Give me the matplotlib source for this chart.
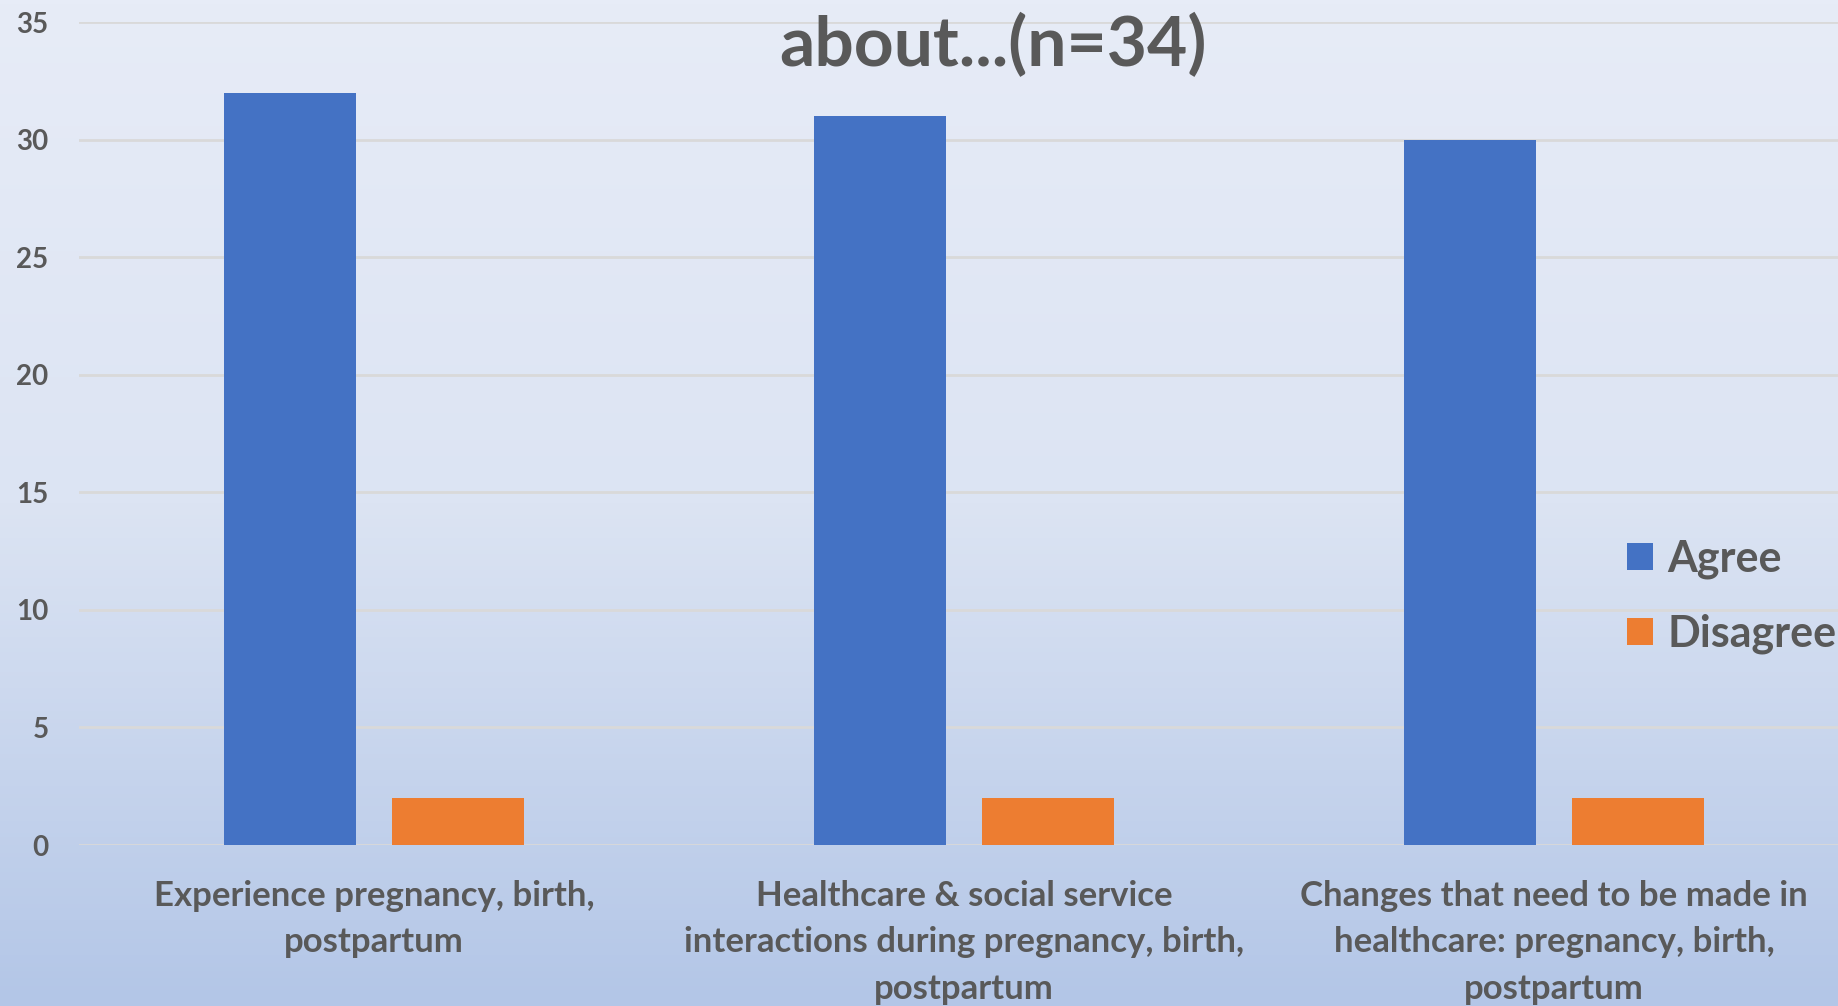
import numpy as np
import matplotlib.pyplot as plt
from matplotlib.colors import LinearSegmentedColormap

categories = ['Experience pregnancy, birth,\npostpartum',
              'Healthcare & social service\ninteractions during pregnancy, birth,\npostpartum',
              'Changes that need to be made in\nhealthcare: pregnancy, birth,\npostpartum']
agree = [32, 31, 30]
disagree = [2, 2, 2]
yticks = [0, 5, 10, 15, 20, 25, 30, 35]

plt.rcParams['font.family'] = ['Lato', 'DejaVu Sans']
plt.rcParams['font.weight'] = 'bold'
text_col = '#595959'

fig = plt.figure(figsize=(18.38, 10.06), dpi=100)

# background gradient, light at top, blue at bottom
bg = fig.add_axes([0, 0, 1, 1])
cmap = LinearSegmentedColormap.from_list('bg', ['#E7ECF7', '#DCE4F3', '#B3C6E7'])
grad = np.linspace(0, 1, 256).reshape(-1, 1)
bg.imshow(grad, aspect='auto', cmap=cmap, extent=[0, 1, 0, 1], origin='upper')
bg.axis('off')

ax = fig.add_axes([0.043, 0.160, 0.963, 0.818])
ax.patch.set_alpha(0)

x = np.arange(len(categories))
width = 0.224
off = 0.142
ax.bar(x - off, agree, width, color='#4472C4', label='Agree', zorder=3)
ax.bar(x + off, disagree, width, color='#ED7D31', label='Disagree', zorder=3)

ax.set_xlim(-0.5, 2.5)
ax.set_ylim(0, 35)
ax.set_yticks(yticks)
ax.set_xticks(x)
ax.set_xticklabels(categories, fontsize=25, color=text_col, linespacing=1.56)
ax.tick_params(axis='y', length=0, pad=22, labelsize=20, labelcolor=text_col)
ax.tick_params(axis='x', length=0, pad=25)
ax.grid(axis='y', color='#D9D9D9', linewidth=2, zorder=0)
for s in ax.spines.values():
    s.set_visible(False)

fig.text(0.540, 0.955, 'about...(n=34)', ha='center', va='center',
         fontsize=50, fontweight='bold', color=text_col, zorder=5)

leg = fig.legend(loc='upper left', bbox_to_anchor=(0.864, 0.503), frameon=False,
                 fontsize=31, handlelength=0.6, handleheight=0.6,
                 handletextpad=0.35, labelspacing=0.8)
for t in leg.get_texts():
    t.set_color(text_col)

fig.savefig('out.png', dpi=100)
